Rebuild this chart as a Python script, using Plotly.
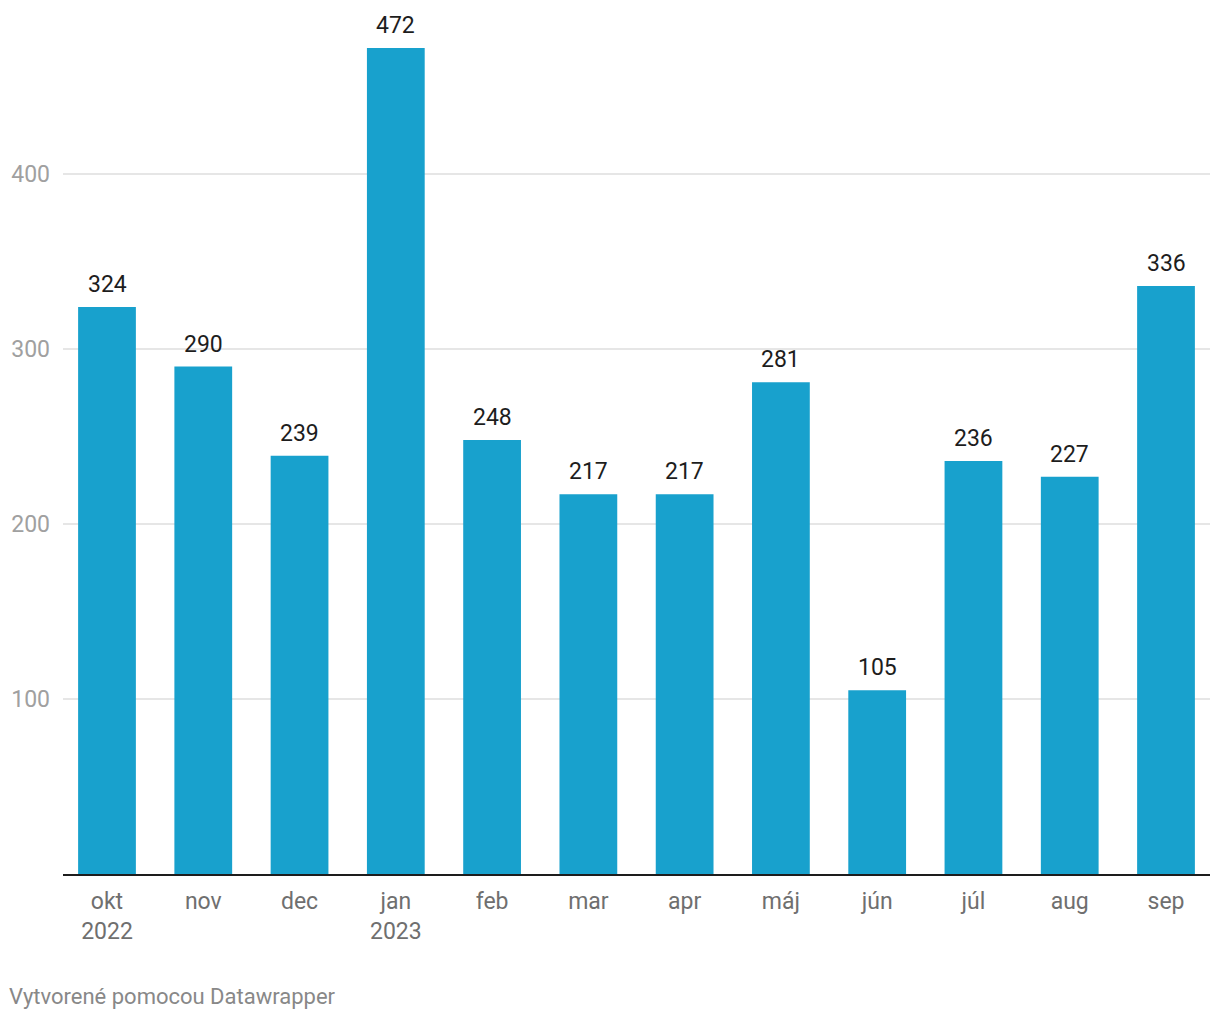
import plotly.graph_objects as go

months = ["okt<br>2022", "nov", "dec", "jan<br>2023", "feb", "mar", "apr", "máj", "jún", "júl", "aug", "sep"]
values = [324, 290, 239, 472, 248, 217, 217, 281, 105, 236, 227, 336]
y_ticks = [100, 200, 300, 400]

xs = list(range(len(months)))

fig = go.Figure()
fig.add_trace(go.Bar(
    x=xs, y=values, width=0.6,
    marker=dict(color="#18a1cd", line=dict(width=0)),
    hoverinfo="skip",
))

for x, v in zip(xs, values):
    fig.add_annotation(
        x=x, y=v, text=str(v), showarrow=False, yanchor="bottom", yshift=7,
        font=dict(family="Roboto", size=23, color="#1d1d1d"),
    )

fig.add_annotation(
    xref="paper", yref="paper", x=-0.0485, y=-0.144, xanchor="left", yanchor="middle",
    text="Vytvorené pomocou Datawrapper", showarrow=False,
    font=dict(family="Roboto", size=22, color="#888888"),
)

fig.update_layout(
    width=1212, height=1012,
    margin=dict(l=55, r=10, t=12, b=146, autoexpand=False),
    plot_bgcolor="white", paper_bgcolor="white",
    showlegend=False,
    xaxis=dict(
        range=[-0.457, 11.457], tickmode="array", tickvals=xs, ticktext=months,
        showgrid=False, zeroline=False, showline=True, linecolor="#1d1d1d", linewidth=2,
        ticks="", ticklabelstandoff=5, automargin=False,
        tickfont=dict(family="Roboto", size=23, color="#6f6f6f"),
    ),
    yaxis=dict(
        range=[0, 488], tickmode="array", tickvals=y_ticks,
        showgrid=True, gridcolor="#e6e6e6", gridwidth=2, zeroline=False,
        ticks="", ticklabelstandoff=12, automargin=False,
        tickfont=dict(family="Roboto", size=23, color="#a0a0a0"),
    ),
)

fig.write_html("out.html")
